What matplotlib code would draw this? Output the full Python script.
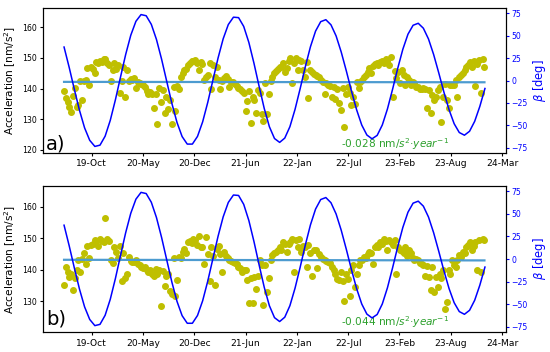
import matplotlib
matplotlib.use("Agg")
import matplotlib.pyplot as plt
import matplotlib.dates as mdates
from matplotlib.ticker import MultipleLocator
import numpy as np
import pandas as pd

# weekly acceleration samples, panel a) and b)
acc_start = "2019-07-16"
acc_a = [
    139.1, 136.8, 135.5, 134.0, 132.3, 137.5, 140.2, 133.9, 134.6, 142.6,
    136.3, 142.4, 142.8, 146.6, 141.1, 147.2, 146.4, 145.2, 148.7, 148.3,
    149.1, 148.8, 149.8, 149.5, 148.5, 147.6, 142.4, 146.1, 148.3, 146.3,
    147.6, 138.7, 142.5, 147.0, 137.2, 146.1, 142.6, 143.3, 142.8, 143.5,
    140.3, 142.2, 141.7, 141.5, 141.1, 140.4, 139.3, 138.4, 138.9, 138.3,
    133.6, 138.3, 128.5, 140.2, 135.7, 139.6, 132.2, 137.2, 133.5, 136.3,
    128.5, 140.4, 132.6, 140.9, 140.0, 143.9, 145.2, 146.1, 146.5, 147.6,
    148.3, 148.9, 149.1, 149.3, 148.3, 146.1, 148.7, 148.0, 142.8, 143.7,
    144.6, 148.5, 139.8, 147.8, 143.9, 147.2, 142.8, 139.8, 142.4, 143.5,
    144.1, 143.3, 140.4, 142.2, 142.0, 141.5, 140.7, 140.2, 139.8, 139.3,
    138.7, 132.8, 136.1, 139.3, 128.9, 137.4, 136.3, 132.0, 139.6, 138.5,
    131.7, 129.5, 141.7, 131.7, 138.3, 142.4, 143.9, 145.0, 145.9, 146.5,
    147.2, 147.2, 148.3, 145.5, 146.6, 149.1, 149.9, 141.7, 148.3, 150.1,
    146.1, 149.3, 149.1, 146.1, 143.9, 148.8, 136.8, 146.1, 145.5, 144.8,
    144.5, 144.1, 143.7, 142.8, 142.0, 138.2, 141.7, 141.2, 140.9, 137.4,
    140.4, 136.7, 139.8, 135.2, 133.0, 140.1, 127.6, 138.3, 140.4, 138.5,
    134.7, 137.4, 135.0, 142.3, 140.1, 142.0, 142.8, 143.7, 144.5, 145.5,
    146.6, 145.0, 147.4, 148.0, 148.5, 147.7, 148.8, 149.0, 148.3, 149.6,
    149.1, 147.7, 150.2, 137.2, 145.9, 143.4, 145.5, 141.7, 146.1, 144.5,
    141.2, 143.7, 142.8, 141.2, 142.0, 141.7, 140.4, 140.4, 139.8, 139.8,
    140.1, 139.8, 133.8, 139.6, 132.2, 137.9, 136.3, 137.4, 139.6, 140.4,
    129.0, 137.4, 141.5, 136.3, 133.6, 141.2, 141.2, 141.2, 142.8, 137.4,
    143.9, 144.5, 145.0, 146.1, 147.2, 147.7, 148.8, 147.2, 149.1, 140.7,
    148.0, 149.3, 138.7, 149.6, 147.2,
]
acc_b = [
    135.1, 140.9, 139.2, 137.7, 138.8, 133.5, 137.5, 139.9, 143.2, 139.3,
    143.6, 145.4, 141.8, 147.5, 143.8, 147.8, 148.1, 149.6, 149.2, 147.7,
    149.9, 149.2, 148.9, 156.5, 149.9, 149.2, 143.0, 142.2, 147.3, 145.7,
    143.9, 147.5, 136.5, 145.2, 137.5, 138.6, 144.1, 142.8, 142.5, 142.4,
    143.2, 141.8, 141.4, 140.9, 140.7, 140.9, 139.9, 139.3, 140.1, 138.8,
    138.2, 140.3, 138.6, 139.9, 128.5, 139.5, 135.0, 137.9, 138.8, 133.3,
    132.2, 143.9, 131.8, 136.7, 144.1, 143.9, 145.7, 146.7, 145.2, 148.9,
    149.2, 148.5, 149.9, 149.6, 147.9, 150.7, 147.3, 147.3, 141.8, 150.5,
    144.9, 136.5, 147.3, 144.5, 135.1, 146.6, 147.5, 144.9, 139.3, 145.6,
    144.5, 143.9, 143.2, 142.8, 142.5, 142.2, 141.8, 140.9, 140.7, 139.3,
    139.9, 140.1, 136.9, 129.5, 137.5, 129.5, 137.7, 134.0, 137.9, 143.2,
    141.5, 128.8, 141.4, 133.0, 137.5, 143.2, 144.6, 145.2, 145.7, 146.2,
    147.1, 146.2, 148.9, 148.3, 145.7, 148.1, 148.9, 149.9, 139.3, 149.4,
    147.3, 149.9, 145.7, 147.5, 147.1, 140.9, 147.8, 145.2, 137.9, 146.4,
    146.2, 140.7, 144.9, 144.1, 143.6, 143.2, 142.8, 142.5, 142.2, 140.9,
    139.9, 138.8, 137.2, 136.7, 139.3, 136.5, 130.1, 138.8, 137.2, 131.6,
    139.9, 141.4, 134.5, 138.6, 141.4, 143.2, 143.0, 144.1, 143.9, 144.9,
    145.7, 145.4, 141.8, 147.1, 147.8, 147.3, 148.9, 148.3, 149.9, 149.2,
    146.4, 149.6, 148.9, 147.8, 149.4, 138.6, 147.1, 146.4, 146.0, 145.2,
    147.1, 144.3, 146.2, 145.2, 143.9, 143.2, 143.6, 143.0, 142.2, 141.8,
    141.4, 137.9, 141.1, 137.7, 133.5, 140.9, 132.9, 137.7, 134.5, 138.6,
    137.5, 140.1, 127.7, 129.8, 139.9, 138.8, 143.0, 141.4, 140.9, 143.2,
    144.6, 144.1, 145.7, 145.4, 147.3, 147.8, 148.9, 146.2, 147.5, 148.9,
    139.9, 149.4, 139.3, 149.9, 149.6,
]

# beta angle, every 20 days from the same start
beta = [
    37.3, 14.6, -9.8, -33.1, -52.8, -66.7, -73.5, -72.1, -62.1, -44.5,
    -21.6, 3.9, 28.9, 50.5, 66.0, 73.5, 72.2, 62.6, 45.8, 23.8,
    -0.9, -25.4, -46.7, -62.5, -70.9, -70.9, -62.3, -46.1, -24.3, 0.4,
    25.0, 46.5, 62.4, 70.6, 70.1, 60.3, 42.5, 19.2, -6.5, -31.2,
    -51.5, -64.7, -69.0, -64.2, -51.5, -32.2, -9.0, 15.3, 37.6, 55.1,
    65.6, 67.8, 62.1, 49.7, 31.7, 10.5, -11.9, -32.7, -49.7, -60.8,
    -65.0, -61.2, -49.6, -31.8, -9.8, 13.4, 34.8, 51.6, 61.6, 63.8,
    58.3, 46.3, 29.0, 8.5, -12.9, -32.5, -48.2, -58.0, -61.0, -56.6,
    -45.5, -28.9, -8.9,
]

# linear trend: value at first sample and slope per year
trend_start = [142.2, 143.2]
trend_slope = [-0.028, -0.044]
labels = ["a)", "b)"]
acc_ylim = [(119.0, 166.3), (120.2, 166.7)]

dates = pd.date_range(acc_start, periods=len(acc_a), freq="7D")
beta_dates = pd.date_range(acc_start, periods=len(beta), freq="20D")

fig = plt.figure(figsize=(5.5, 3.52), dpi=100)
boxes = [[0.0782, 0.5653, 0.8418, 0.412], [0.0782, 0.056, 0.8418, 0.4164]]

for k, acc in enumerate([acc_a, acc_b]):
    ax = fig.add_axes(boxes[k])
    ax.scatter(dates, acc, s=16, color="y", zorder=2)
    yrs = (dates[-1] - dates[0]).days / 365.25
    ax.plot([dates[0], dates[-1]],
            [trend_start[k], trend_start[k] + trend_slope[k] * yrs],
            color="#4c9bd0", lw=1.6, zorder=3)
    ax.set_ylim(*acc_ylim[k])
    ax.set_ylabel("Acceleration [nm/s$^2$]", fontsize=7.6, labelpad=3)
    ax.tick_params(axis="x", labelsize=6.6, length=2.5, pad=2)
    ax.tick_params(axis="y", labelsize=5.6, length=2.5, pad=2)
    ax.yaxis.set_major_locator(MultipleLocator(10))
    ax.xaxis.set_major_locator(MultipleLocator(200))
    ax.xaxis.set_major_formatter(mdates.DateFormatter("%y-%b"))
    ax.text(0.006, 0.025 if k == 0 else 0.05, labels[k], transform=ax.transAxes,
            fontsize=14, va="baseline", ha="left")
    ax.text(0.76, 0.062 if k == 0 else 0.072,
            "%.3f nm/$s^2$·$year^{-1}$" % trend_slope[k],
            transform=ax.transAxes, color="tab:green", fontsize=7.6,
            ha="center", va="center")

    ax2 = ax.twinx()
    ax2.plot(beta_dates, beta, color="blue", lw=1.1, zorder=4)
    ax2.set_ylabel(r"$\beta$ [deg]", color="blue", fontsize=8.3, labelpad=2)
    ax2.tick_params(axis="y", colors="blue", labelsize=5.6, length=2.5, pad=1.5)
    ax2.yaxis.set_major_locator(MultipleLocator(25))

fig.savefig("out.png", dpi=100)
